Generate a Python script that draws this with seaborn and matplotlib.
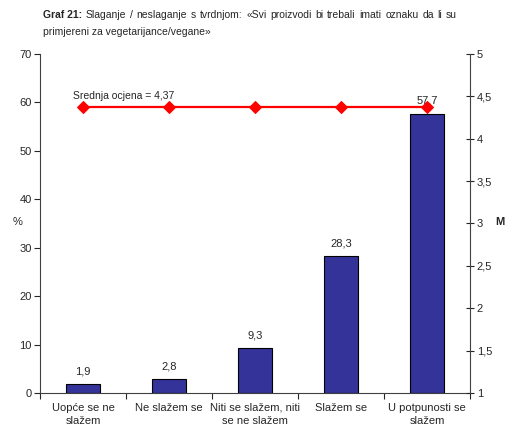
import matplotlib
matplotlib.use('Agg')
import matplotlib.pyplot as plt
import seaborn as sns
import pandas as pd
from matplotlib.ticker import FuncFormatter, FixedLocator

categories = ['Uopće se ne\nslažem', 'Ne slažem se', 'Niti se slažem, niti\nse ne slažem',
              'Slažem se', 'U potpunosti se\nslažem']
percent = [1.9, 2.8, 9.3, 28.3, 57.7]
mean_score = [4.37, 4.37, 4.37, 4.37, 4.37]
mean_label = 'Srednja ocjena = 4,37'
title_bold = 'Graf 21:'
title_line1 = 'Slaganje / neslaganje s tvrdnjom: «Svi proizvodi bi trebali imati oznaku da li su'
title_line2 = 'primjereni za vegetarijance/vegane»'

sns.set_style('white')
plt.rcParams['font.family'] = ['Liberation Sans', 'DejaVu Sans']

df = pd.DataFrame({'cat': categories, 'pct': percent})

fig = plt.figure(figsize=(5.1, 4.32), dpi=100)
ax = fig.add_axes([0.0784, 0.0903, 0.8431, 0.7847])

sns.barplot(data=df, x='cat', y='pct', color='#333399', width=0.4,
            edgecolor='black', linewidth=0.8, saturation=1, ax=ax)
ax.set_ylim(0, 70)
ax.set_xlim(-0.5, 4.5)
ax.set_yticks(range(0, 71, 10))
ax.set_xlabel('')
ax.set_ylabel('')
ax.tick_params(axis='y', direction='out', length=4, width=0.8, labelsize=8, pad=2, left=True)
ax.tick_params(axis='x', which='major', length=0, labelsize=8, pad=7)
for lbl in ax.get_xticklabels():
    lbl.set_linespacing(1.45)
ax.xaxis.set_minor_locator(FixedLocator([-0.5, 0.5, 1.5, 2.5, 3.5, 4.5]))
ax.tick_params(axis='x', which='minor', direction='out', length=4, width=0.8, bottom=True)
for s in ['top', 'right']:
    ax.spines[s].set_visible(False)
for s in ['left', 'bottom']:
    ax.spines[s].set_color('#404040')
    ax.spines[s].set_linewidth(0.8)

for i, v in enumerate(percent):
    ax.text(i, v + 1.6, f'{v:.1f}'.replace('.', ','), ha='center', va='bottom', fontsize=8)

ax2 = ax.twinx()
sns.lineplot(x=list(range(5)), y=mean_score, color='red', marker='D', markersize=6,
             markeredgecolor='red', linewidth=1.6, ax=ax2)
ax2.set_ylim(1, 5)
ax2.set_yticks([1, 1.5, 2, 2.5, 3, 3.5, 4, 4.5, 5])
ax2.yaxis.set_major_formatter(FuncFormatter(lambda v, p: f'{v:g}'.replace('.', ',')))
ax2.tick_params(axis='y', direction='inout', length=6, width=0.8, labelsize=8, pad=2, right=True)
for s in ['top', 'left', 'bottom']:
    ax2.spines[s].set_visible(False)
ax2.spines['right'].set_color('#404040')
ax2.spines['right'].set_linewidth(0.8)
ax2.text(-0.12, 4.45, mean_label, fontsize=7.5, ha='left', va='bottom')

fig.text(0.024, 0.487, '%', fontsize=8, ha='left', va='center')
fig.text(0.972, 0.487, 'M', fontsize=8, fontweight='bold', ha='left', va='center')

# title, first line justified between x=43px and x=457px
fig.canvas.draw()
renderer = fig.canvas.get_renderer()
x0, x1, W = 43, 457, 510.0
y1 = 1 - 15 / 432.0
words = [(title_bold, 'bold')] + [(w, 'normal') for w in title_line1.split(' ')]
texts = [fig.text(0, y1, w, fontsize=7.5, fontweight=fw, ha='left', va='center') for w, fw in words]
widths = [t.get_window_extent(renderer).width for t in texts]
gap = (x1 - x0 - sum(widths)) / (len(texts) - 1)
xp = x0
for t, w in zip(texts, widths):
    t.set_x(xp / W)
    xp += w + gap
fig.text(x0 / W, 1 - 32 / 432.0, title_line2, fontsize=7.5, ha='left', va='center')

fig.savefig('out.png', dpi=100)
